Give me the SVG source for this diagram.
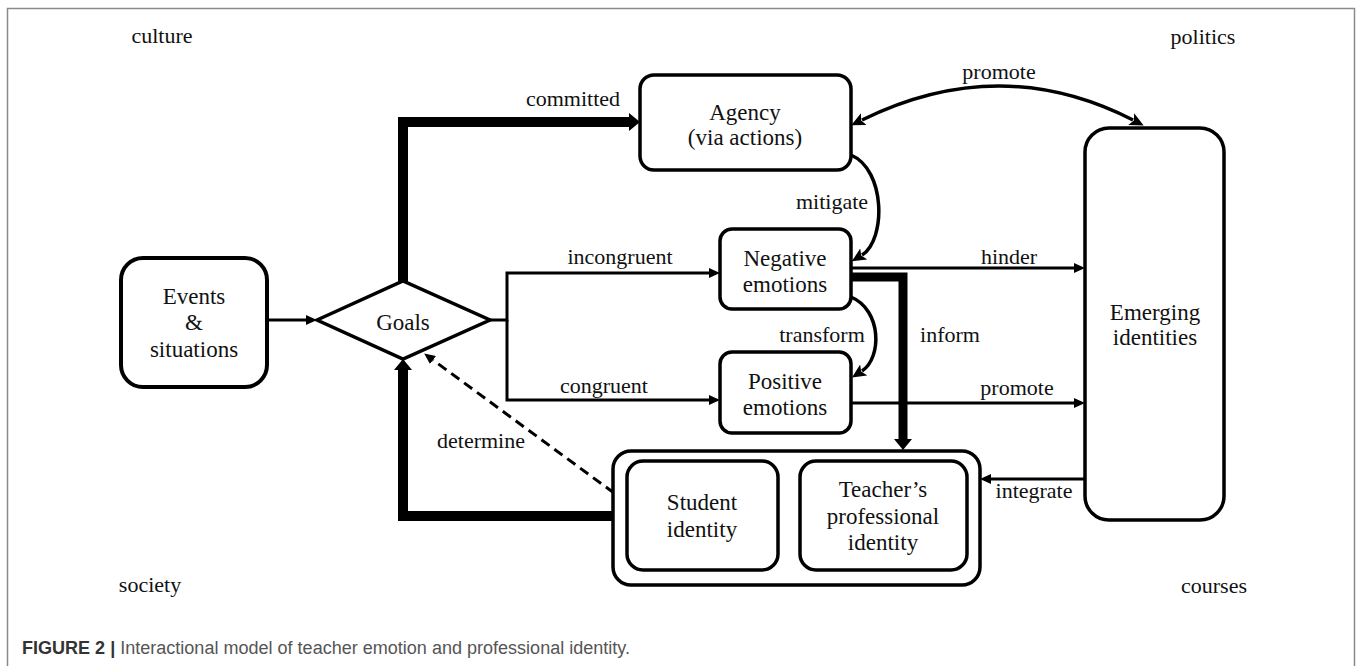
<svg xmlns="http://www.w3.org/2000/svg" width="1360" height="666" viewBox="0 0 1360 666">
<style>
  .lbl { font-family: "Liberation Serif", "Times New Roman", serif; font-size: 22px; fill: #111; text-anchor: middle; }
  .nt { font-family: "Liberation Serif", "Times New Roman", serif; font-size: 23px; fill: #111; text-anchor: middle; }
  .box { fill: #fff; stroke: #000; stroke-width: 3.5; }
  .ln { fill: none; stroke: #000; stroke-width: 3; }
  .thick { fill: none; stroke: #000; stroke-width: 10; }
  .cv { fill: none; stroke: #000; stroke-width: 3.5; }
  .dash { fill: none; stroke: #000; stroke-width: 3; stroke-dasharray: 10 6; }
  .cap { font-family: "Liberation Sans", Arial, sans-serif; font-size: 18px; }
</style>
<defs>
  <marker id="ah" markerUnits="userSpaceOnUse" markerWidth="11" markerHeight="10" refX="0" refY="5" orient="auto">
    <path d="M0,0 L11,5 L0,10 z" fill="#000"/>
  </marker>
  <marker id="ahT" markerUnits="userSpaceOnUse" markerWidth="11" markerHeight="18" refX="0" refY="9" orient="auto">
    <path d="M0,0 L11,9 L0,18 z" fill="#000"/>
  </marker>
  <marker id="ahC" markerUnits="userSpaceOnUse" markerWidth="14" markerHeight="13" refX="2" refY="6.5" orient="auto-start-reverse">
    <path d="M0,0 L14,6.5 L0,13 L3,6.5 z" fill="#000"/>
  </marker>
</defs>
<rect x="0" y="0" width="1360" height="666" fill="#fff"/>
<rect x="7.5" y="8.5" width="1347" height="700" fill="none" stroke="#8a8a8a" stroke-width="1.5"/>

<g id="context">
  <text class="lbl" x="162" y="43">culture</text>
  <text class="lbl" x="1203" y="44">politics</text>
  <text class="lbl" x="150" y="592">society</text>
  <text class="lbl" x="1214" y="593">courses</text>
</g>

<g id="connectors">
  <path class="ln" d="M267,320 H306" marker-end="url(#ah)"/>
  <path class="thick" d="M403,281 V122 H629" marker-end="url(#ahT)"/>
  <path class="ln" d="M490,320 H507 V273 H709" marker-end="url(#ah)"/>
  <path class="ln" d="M507,320 V400 H709" marker-end="url(#ah)"/>
  <path class="thick" d="M614,516 H403 V370" marker-end="url(#ahT)"/>
  <path class="dash" d="M614,493 L433,360" marker-end="url(#ah)"/>
  <path class="ln" d="M851,268 H1074" marker-end="url(#ah)"/>
  <path class="ln" d="M851,403 H1074" marker-end="url(#ah)"/>
  <path class="thick" d="M851,277 H903 V439" style="stroke-width:9" marker-end="url(#ahT)"/>
  <path class="ln" d="M1085,479 H991" marker-end="url(#ah)"/>
  <path class="cv" d="M862,120 Q1000,52 1133,120" marker-start="url(#ahC)" marker-end="url(#ahC)"/>
  <path class="cv" d="M851,155 C886,170 886,240 862,255" marker-end="url(#ahC)"/>
  <path class="cv" d="M851,297 C882,310 882,358 862,371" marker-end="url(#ahC)"/>
  <text class="lbl" x="573" y="106">committed</text>
  <text class="lbl" x="999" y="79">promote</text>
  <text class="lbl" x="620" y="264">incongruent</text>
  <text class="lbl" x="604" y="393">congruent</text>
  <text class="lbl" x="832" y="209">mitigate</text>
  <text class="lbl" x="1009" y="264">hinder</text>
  <text class="lbl" x="822" y="342">transform</text>
  <text class="lbl" x="950" y="342">inform</text>
  <text class="lbl" x="1017" y="395">promote</text>
  <text class="lbl" x="481" y="448">determine</text>
  <text class="lbl" x="1034" y="498">integrate</text>
</g>

<g id="events">
  <rect class="box" x="121" y="258" width="146" height="129" rx="22" style="stroke-width:4"/>
  <text class="nt" x="194" y="304">Events</text>
  <text class="nt" x="194" y="330">&amp;</text>
  <text class="nt" x="194" y="357">situations</text>
</g>

<g id="goals">
  <polygon class="box" points="317,320 403,281 490,320 403,359"/>
  <text class="nt" x="403" y="330">Goals</text>
</g>

<g id="agency">
  <rect class="box" x="640" y="75" width="211" height="95" rx="14"/>
  <text class="nt" x="745" y="120">Agency</text>
  <text class="nt" x="745" y="145">(via actions)</text>
</g>

<g id="negative">
  <rect class="box" x="720" y="229" width="131" height="80" rx="12"/>
  <text class="nt" x="785" y="266">Negative</text>
  <text class="nt" x="785" y="292">emotions</text>
</g>

<g id="positive">
  <rect class="box" x="720" y="352" width="131" height="81" rx="12"/>
  <text class="nt" x="785" y="389">Positive</text>
  <text class="nt" x="785" y="415">emotions</text>
</g>

<g id="emerging">
  <rect class="box" x="1085" y="128" width="139" height="392" rx="24"/>
  <text class="nt" x="1155" y="320">Emerging</text>
  <text class="nt" x="1155" y="345">identities</text>
</g>

<g id="identities">
  <rect class="box" x="613" y="451" width="367" height="134" rx="18"/>
  <g id="student">
    <rect class="box" x="627" y="461" width="151" height="109" rx="16"/>
    <text class="nt" x="702" y="510">Student</text>
    <text class="nt" x="702" y="537">identity</text>
  </g>
  <g id="teacher">
    <rect class="box" x="800" y="461" width="167" height="109" rx="16"/>
    <text class="nt" x="883" y="497">Teacher’s</text>
    <text class="nt" x="883" y="524">professional</text>
    <text class="nt" x="883" y="550">identity</text>
  </g>
</g>

<g id="caption">
  <text class="cap" x="22" y="654" textLength="608" lengthAdjust="spacingAndGlyphs"><tspan font-weight="bold" fill="#333">FIGURE 2 |</tspan><tspan fill="#555"> Interactional model of teacher emotion and professional identity.</tspan></text>
</g>
</svg>
